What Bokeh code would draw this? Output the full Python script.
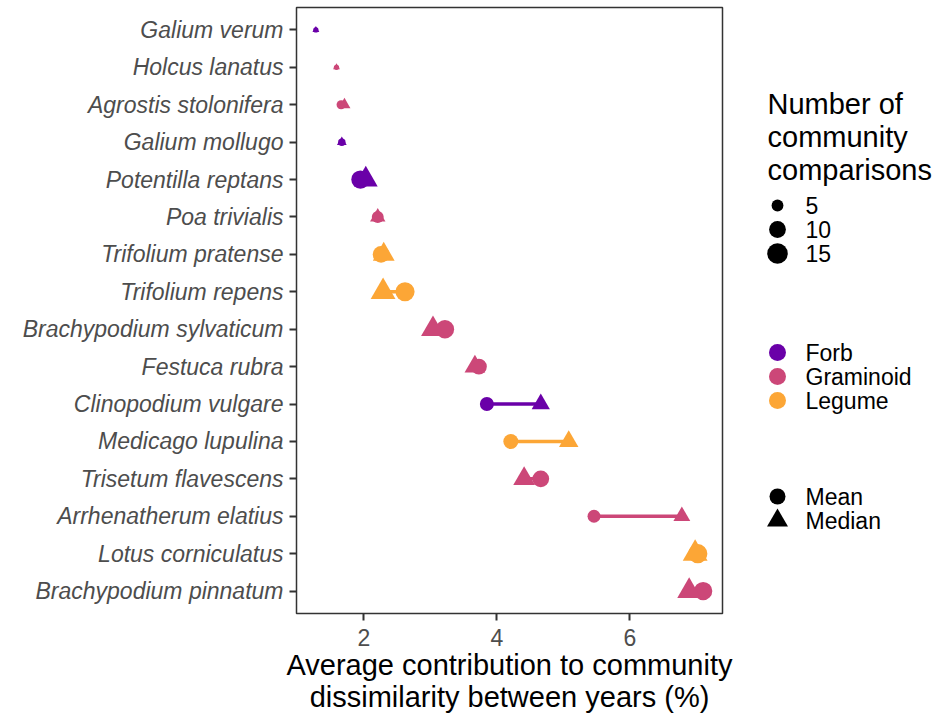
import math
from bokeh.plotting import figure
from bokeh.layouts import row
from bokeh.models import Range1d, FixedTicker, ColumnDataSource
from bokeh.core.properties import value
from bokeh.embed import file_html
from bokeh.resources import INLINE

# ---------------- data ----------------
species = ["Galium verum", "Holcus lanatus", "Agrostis stolonifera", "Galium mollugo",
           "Potentilla reptans", "Poa trivialis", "Trifolium pratense", "Trifolium repens",
           "Brachypodium sylvaticum", "Festuca rubra", "Clinopodium vulgare",
           "Medicago lupulina", "Trisetum flavescens", "Arrhenatherum elatius",
           "Lotus corniculatus", "Brachypodium pinnatum"]
group = ["Forb", "Graminoid", "Graminoid", "Forb",
         "Forb", "Graminoid", "Legume", "Legume",
         "Graminoid", "Graminoid", "Forb",
         "Legume", "Graminoid", "Graminoid",
         "Legume", "Graminoid"]
mean_vals = [1.28, 1.59, 1.66, 1.67, 1.95, 2.21, 2.26, 2.62,
             3.22, 3.73, 3.85, 4.21, 4.66, 5.46, 7.02, 7.10]
median_vals = [1.28, 1.59, 1.71, 1.67, 2.03, 2.21, 2.30, 2.29,
               3.04, 3.67, 4.66, 5.08, 4.41, 6.78, 6.98, 6.89]
n_comparisons = [1, 1, 3, 2, 12, 5, 10, 13, 12, 9, 7, 8, 10, 6, 13, 12]

size_breaks = [5, 10, 15]
groups = ["Forb", "Graminoid", "Legume"]
group_colors = ["#6A00A8", "#CC4778", "#FCA636"]
stat_labels = ["Mean", "Median"]
x_ticks = [2, 4, 6]
x_title = "Average contribution to community\ndissimilarity between years (%)"
legend_title = ["Number of", "community", "comparisons"]

FONT = value("Liberation Sans")
cmap = dict(zip(groups, group_colors))

def circ_size(n):
    return 5.3 * math.sqrt(n)

def tri_size(n):
    return 1.3 * circ_size(n)

ypos = list(range(1, len(species) + 1))
src = ColumnDataSource(dict(
    y=ypos, mean=mean_vals, median=median_vals,
    color=[cmap[g] for g in group],
    csize=[circ_size(n) for n in n_comparisons],
    tsize=[tri_size(n) for n in n_comparisons],
))

allx = mean_vals + median_vals
lo, hi = min(allx), max(allx)
pad = 0.05 * (hi - lo)

MAIN_W = 750
TOP, BOTTOM = 7, 103

p = figure(width=MAIN_W, height=716, output_backend="svg", toolbar_location=None,
           x_range=Range1d(lo - pad, hi + pad),
           y_range=Range1d(len(species) + 0.6, 0.4),
           min_border_left=296, min_border_right=MAIN_W - 722,
           min_border_top=TOP, min_border_bottom=BOTTOM)
p.grid.visible = False
p.background_fill_color = "white"
p.border_fill_color = "white"
p.outline_line_color = "#333333"
p.outline_line_width = 1.5

p.segment(x0="mean", y0="y", x1="median", y1="y", line_color="color", line_width=3.5, source=src)
p.scatter(x="mean", y="y", size="csize", marker="circle", fill_color="color",
          line_color=None, source=src)
p.scatter(x="median", y="y", size="tsize", marker="triangle", fill_color="color",
          line_color=None, source=src)

# y axis
p.yaxis.ticker = FixedTicker(ticks=ypos)
p.yaxis.major_label_overrides = {i: s for i, s in zip(ypos, species)}
p.yaxis.major_label_text_font_style = "italic"
p.yaxis.minor_tick_line_color = None

# x axis
p.xaxis.ticker = FixedTicker(ticks=x_ticks)
p.xaxis.minor_tick_line_color = None
p.xaxis.axis_label = x_title
p.xaxis.axis_label_text_font_size = "29px"
p.xaxis.axis_label_text_font_style = "normal"
p.xaxis.axis_label_text_color = "black"
p.xaxis.axis_label_text_font = "Liberation Sans"
p.xaxis.axis_label_text_line_height = 1.0
p.xaxis.axis_label_standoff = 0
p.xaxis.major_label_standoff = 8

for ax in (p.xaxis, p.yaxis):
    ax.axis_line_color = None
    ax.major_tick_in = 0
    ax.major_tick_out = 7
    ax.major_tick_line_color = "#333333"
    ax.major_tick_line_width = 2
    ax.major_label_text_font = "Liberation Sans"
    ax.major_label_text_font_size = "23px"
    ax.major_label_text_color = "#4D4D4D"
p.yaxis.major_label_standoff = 6

# ---------------- legend panel (page pixel coordinates) ----------------
lg = figure(width=936 - MAIN_W, height=716, output_backend="svg", toolbar_location=None,
            x_range=Range1d(MAIN_W, 936), y_range=Range1d(716 - BOTTOM, TOP),
            x_axis_location=None, y_axis_location=None,
            min_border_left=0, min_border_right=0,
            min_border_top=TOP, min_border_bottom=BOTTOM,
            outline_line_color=None)
lg.grid.visible = False
lg.background_fill_color = "white"
lg.border_fill_color = "white"

key_x = 777
lab_x = 805
lg.text(x=[767] * 3, y=[103, 136, 169], text=legend_title, text_font=FONT,
        text_font_size="29px", text_baseline="middle", text_align="left", text_color="black")

size_y = [205, 229, 253]
lg.scatter(x=[key_x] * 3, y=size_y, size=[circ_size(n) for n in size_breaks],
           marker="circle", fill_color="black", line_color=None)
lg.text(x=[lab_x] * 3, y=size_y, text=[str(s) for s in size_breaks], text_font=FONT,
        text_font_size="23px", text_baseline="middle", text_color="black")

col_y = [352, 376, 400]
lg.scatter(x=[key_x] * 3, y=col_y, size=17, marker="circle", fill_color=group_colors,
           line_color=None)
lg.text(x=[lab_x] * 3, y=col_y, text=groups, text_font=FONT,
        text_font_size="23px", text_baseline="middle", text_color="black")

stat_y = [496, 520]
lg.scatter(x=[key_x] * 2, y=stat_y, size=[16, 21], marker=["circle", "triangle"],
           fill_color="black", line_color=None)
lg.text(x=[lab_x] * 2, y=stat_y, text=stat_labels, text_font=FONT,
        text_font_size="23px", text_baseline="middle", text_color="black")

layout = row(p, lg)
open("out.html", "w").write(file_html(layout, INLINE))
